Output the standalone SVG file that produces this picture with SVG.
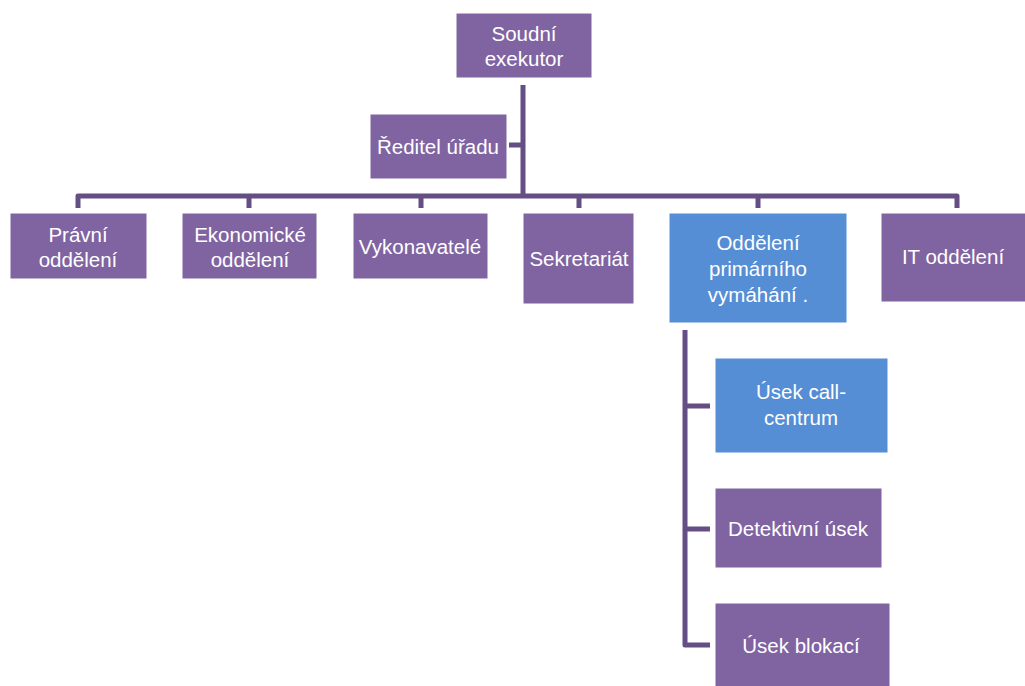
<svg xmlns="http://www.w3.org/2000/svg" width="1025" height="686" viewBox="0 0 1025 686">
<style>
.p{fill:#8064A2;stroke:#ffffff;stroke-width:1}
.b{fill:#558ED5;stroke:#ffffff;stroke-width:1}
.t{font-family:"Liberation Sans",Arial,sans-serif;font-size:20.5px;fill:#ffffff;text-anchor:middle}
.c{fill:none;stroke:#654E84;stroke-width:5;stroke-linejoin:round}
</style>
<rect width="1025" height="686" fill="#ffffff"/>
<g id="connectors">
<path class="c" d="M523 85V196"/>
<path class="c" d="M509 145H523"/>
<path class="c" d="M78 208V196H957V208"/>
<path class="c" d="M249 196V208M421 196V208M579 196V208M758 196V208"/>
<path class="c" d="M685 330V645H710M685 406H710M685 529H710"/>
</g>
<g id="n-soudni"><rect class="p" x="456" y="13" width="136" height="65"/><text class="t" x="524" y="41">Soudní</text><text class="t" x="524" y="66">exekutor</text></g>
<g id="n-reditel"><rect class="p" x="370" y="114" width="137" height="65"/><text class="t" x="438" y="154">Ředitel úřadu</text></g>
<g id="n-pravni"><rect class="p" x="10" y="213" width="137" height="66"/><text class="t" x="78" y="242">Právní</text><text class="t" x="78" y="267">oddělení</text></g>
<g id="n-ekonom"><rect class="p" x="182" y="213" width="135" height="66"/><text class="t" x="250" y="242">Ekonomické</text><text class="t" x="250" y="267">oddělení</text></g>
<g id="n-vykon"><rect class="p" x="353" y="213" width="135" height="66"/><text class="t" x="420" y="254">Vykonavatelé</text></g>
<g id="n-sekret"><rect class="p" x="523" y="213" width="111" height="91"/><text class="t" x="579" y="266">Sekretariát</text></g>
<g id="n-primar"><rect class="b" x="669" y="213" width="178" height="110"/><text class="t" x="758" y="250">Oddělení</text><text class="t" x="758" y="276">primárního</text><text class="t" x="758" y="302">vymáhání .</text></g>
<g id="n-it"><rect class="p" x="881" y="213" width="150" height="89"/><text class="t" x="953" y="264">IT oddělení</text></g>
<g id="n-call"><rect class="b" x="715" y="358" width="173" height="95"/><text class="t" x="801" y="399">Úsek call-</text><text class="t" x="801" y="425">centrum</text></g>
<g id="n-detekt"><rect class="p" x="715" y="488" width="167" height="80"/><text class="t" x="798" y="536">Detektivní úsek</text></g>
<g id="n-blok"><rect class="p" x="715" y="603" width="175" height="90"/><text class="t" x="801" y="653">Úsek blokací</text></g>
</svg>
